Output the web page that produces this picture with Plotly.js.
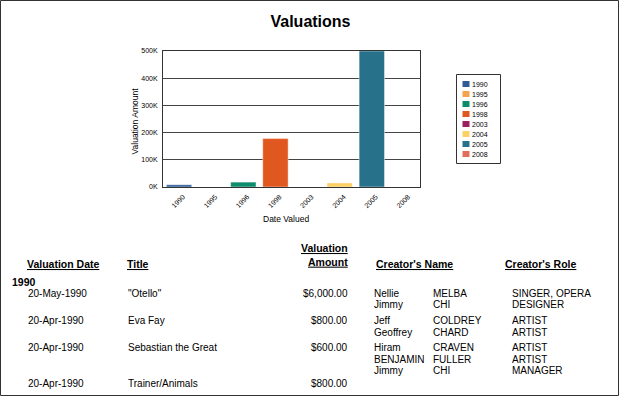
<!DOCTYPE html>
<html>
<head>
<meta charset="utf-8">
<script src="https://cdn.plot.ly/plotly-3.0.1.min.js"></script>
<style>
  html, body { margin: 0; padding: 0; background: #ffffff; }
  #chart { width: 621px; height: 396px; }
</style>
</head>
<body>
<div id="chart"></div>
<script>
// ---- chart data ----
const chartTitle = 'Valuations';
const years = ['1990', '1995', '1996', '1998', '2003', '2004', '2005', '2008'];
const values = [8200, 0, 18000, 178000, 0, 15000, 500000, 0];
const yearColors = ['#2f5b97', '#f5a24d', '#0c8c6b', '#e0571f', '#9c1f5f', '#fdd066', '#27728a', '#e26d5c'];
const yTickVals = [0, 100000, 200000, 300000, 400000, 500000];
const yTickText = ['0K', '100K', '200K', '300K', '400K', '500K'];
const xAxisTitle = 'Date Valued';
const yAxisTitle = 'Valuation Amount';

// ---- table data ----
const tableHeaders = ['Valuation Date', 'Title', 'Valuation<br>Amount', "Creator's Name", "Creator's Role"];
const groupLabel = '1990';
const valDates = ['20-May-1990', '20-Apr-1990', '20-Apr-1990', '20-Apr-1990'];
const titles = ['"Otello"', 'Eva Fay', 'Sebastian the Great', 'Trainer/Animals'];
const amounts = ['$6,000.00', '$800.00', '$600.00', '$800.00'];
const creatorFirst = [['Nellie', 'Jimmy'], ['Jeff', 'Geoffrey'], ['Hiram', 'BENJAMIN', 'Jimmy'], []];
const creatorLast = [['MELBA', 'CHI'], ['COLDREY', 'CHARD'], ['CRAVEN', 'FULLER', 'CHI'], []];
const creatorRole = [['SINGER, OPERA', 'DESIGNER'], ['ARTIST', 'ARTIST'], ['ARTIST', 'ARTIST', 'MANAGER'], []];

// ---- layout geometry (pixels) ----
const PW = 621, PH = 396;
const L = 163, R = 420, T = 51, B = 187;
const W = R - L, H = B - T;
const px = v => (v - L) / W;
const py = v => 1 - (v - T) / H;
const FONT = 'Liberation Sans, Arial, sans-serif';
const PAD = 3; // annotation internal padding compensation

const shapes = [];
const annotations = [];

// page border
shapes.push({type: 'rect', xref: 'paper', yref: 'paper',
  x0: px(0.5), x1: px(618.5), y0: py(0.5), y1: py(395.5),
  line: {color: '#333333', width: 1}, fillcolor: 'rgba(0,0,0,0)', layer: 'above'});

// axis titles
annotations.push({xref: 'paper', yref: 'paper', x: px(286), y: py(219), xanchor: 'center', yanchor: 'middle',
  text: xAxisTitle, showarrow: false, font: {family: FONT, size: 8.5, color: '#000'}});
annotations.push({xref: 'paper', yref: 'paper', x: px(134.5), y: py(121), xanchor: 'center', yanchor: 'middle',
  text: yAxisTitle, textangle: -90, showarrow: false, font: {family: FONT, size: 8.5, color: '#000'}});

// manual legend
shapes.push({type: 'rect', xref: 'paper', yref: 'paper',
  x0: px(456.5), x1: px(500.5), y0: py(74.5), y1: py(163.5),
  line: {color: '#333333', width: 1}, fillcolor: '#ffffff'});
years.forEach((yr, i) => {
  const cy = 84 + i * 10;
  shapes.push({type: 'rect', xref: 'paper', yref: 'paper',
    x0: px(462.5), x1: px(469.5), y0: py(cy - 3), y1: py(cy + 3),
    line: {width: 0}, fillcolor: yearColors[i]});
  annotations.push({xref: 'paper', yref: 'paper', x: px(473 - PAD), y: py(cy), xanchor: 'left', yanchor: 'middle',
    text: yr, showarrow: false, font: {family: FONT, size: 7, color: '#000'}});
});

// table headers
const ul = t => t.split('<br>').map(s => '<span style="text-decoration:underline">' + s + '</span>').join('<br>');
const hdrFont = {family: FONT, size: 10.5, color: '#000', weight: 'bold'};
const hdr = (x, y, t, anchor) => annotations.push({xref: 'paper', yref: 'paper',
  x: px(anchor === 'right' ? x + PAD : x - PAD), y: py(y), xanchor: anchor || 'left', yanchor: 'middle',
  align: anchor || 'left', text: '<b>' + t + '</b>', showarrow: false, font: hdrFont});
hdr(27.5, 264, ul(tableHeaders[0]));
hdr(127.5, 264, ul(tableHeaders[1]));
hdr(347, 255, ul(tableHeaders[2]), 'right');
hdr(376.5, 264, ul(tableHeaders[3]));
hdr(505.5, 264, ul(tableHeaders[4]));
hdr(12.5, 281.5, groupLabel);

// table rows
const cellFont = {family: FONT, size: 10, color: '#000'};
const rowTops = [293, 320.5, 347.5, 383.5];
const lineH = 11.5;
const cell = (x, y, t, anchor) => annotations.push({xref: 'paper', yref: 'paper',
  x: px(anchor === 'right' ? x + PAD : x - PAD), y: py(y),
  xanchor: anchor || 'left', yanchor: 'middle', text: t, showarrow: false, font: cellFont});
valDates.forEach((d, i) => {
  const y0 = rowTops[i];
  cell(28.5, y0, d);
  cell(128.5, y0, titles[i]);
  cell(346.5, y0, amounts[i], 'right');
  creatorFirst[i].forEach((f, j) => {
    const yy = y0 + j * lineH;
    cell(374.5, yy, f);
    cell(434, yy, creatorLast[i][j]);
    cell(512.5, yy, creatorRole[i][j]);
  });
});

const data = [{
  type: 'bar',
  x: years,
  y: values,
  marker: {color: yearColors, line: {color: 'rgba(255,255,255,0.45)', width: 1}},
  hoverinfo: 'none',
  showlegend: false
}];

const layout = {
  width: PW, height: PH,
  margin: {l: L, r: PW - R, t: T, b: PH - B, pad: 0},
  paper_bgcolor: '#ffffff', plot_bgcolor: '#ffffff',
  font: {family: FONT, color: '#000'},
  title: {text: '<b>' + chartTitle + '</b>', x: 0.5, xref: 'container', y: 1 - 21.5 / PH, yref: 'container',
    xanchor: 'center', yanchor: 'middle', font: {family: FONT, size: 16, color: '#000'}},
  bargap: 0.21,
  xaxis: {type: 'category', tickangle: -45, tickfont: {family: FONT, size: 7, color: '#000'},
    showline: true, linecolor: '#333', linewidth: 1, mirror: true, ticks: '', showgrid: false,
    ticklabelshift: 4, ticklabelstandoff: 2, automargin: false, fixedrange: true},
  yaxis: {range: [0, 500000], tickvals: yTickVals, ticktext: yTickText, tickfont: {family: FONT, size: 7, color: '#000'},
    showline: true, linecolor: '#333', linewidth: 1, mirror: true, ticks: '', showgrid: true, gridcolor: '#444', gridwidth: 1,
    zeroline: false, automargin: false, fixedrange: true, ticklabelstandoff: 3},
  shapes: shapes,
  annotations: annotations,
  showlegend: false
};

Plotly.newPlot('chart', data, layout, {staticPlot: true, displayModeBar: false});
</script>
</body>
</html>
